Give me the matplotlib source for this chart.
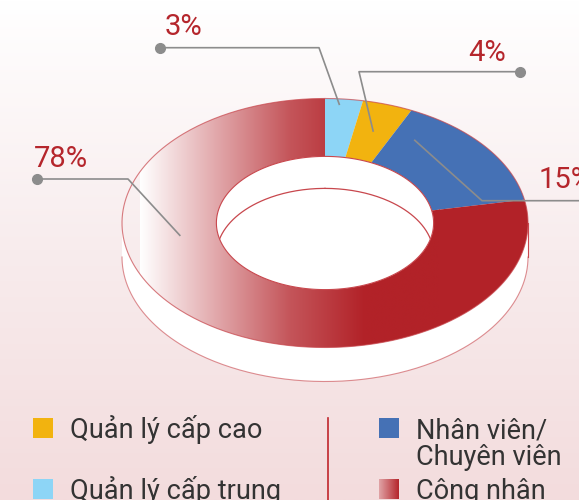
import numpy as np
import matplotlib
matplotlib.use("Agg")
import matplotlib.pyplot as plt
from matplotlib.patches import Polygon, Rectangle
from matplotlib.colors import LinearSegmentedColormap

# co cau lao dong theo cap bac
categories = ["Quản lý cấp trung", "Quản lý cấp cao", "Nhân viên/\nChuyên viên", "Công nhân"]
shares = [3, 4, 15, 78]
pct_labels = ["3%", "4%", "15%", "78%"]
colors = ["#8dd5f6", "#f2b30f", "#4571b5", "#b22228"]

legend_order = [1, 0, 2, 3]   # cot trai: cao, trung ; cot phai: nhan vien, cong nhan

plt.rcParams['font.family'] = ['Roboto', 'DejaVu Sans']

W, H = 579, 500
fig = plt.figure(figsize=(W / 100, H / 100), dpi=100)
ax = fig.add_axes([0, 0, 1, 1])
ax.set_xlim(0, W)
ax.set_ylim(H, 0)
ax.axis('off')

# nen gradient doc
bg = np.linspace(0, 1, 256).reshape(-1, 1)
bg_cmap = LinearSegmentedColormap.from_list("bg", ["#ffffff", "#f8eced", "#f3dcdd"])
ax.imshow(bg, cmap=bg_cmap, extent=[0, W, H, 0], aspect='auto', zorder=0)

# hinh elip cua banh donut
cx, cy = 325, 223
a, b = 203, 124.5
rin = 0.535
depth = 34
red_grad = LinearSegmentedColormap.from_list("rg", ["#ffffff", "#e2a9ac", "#c4555a", "#b22228", "#b22228"])


def ell(theta_deg, r=1.0, dy=0.0):
    t = np.radians(theta_deg)
    return cx + r * a * np.sin(t), cy - r * b * np.cos(t) + dy


# thanh ben (3D)
th = np.linspace(90, 270, 200)
xt, yt = ell(th)
xb, yb = ell(th[::-1], dy=depth)
side = Polygon(np.column_stack([np.r_[xt, xb], np.r_[yt, yb]]), closed=True,
               facecolor="white", edgecolor="none", zorder=2)
ax.add_patch(side)
xe, ye = ell(th, dy=depth)
ax.plot(xe, ye, color="#c8474d", lw=0.8, alpha=0.6, zorder=3)
ax.plot([cx + a, cx + a], [cy, cy + depth], color="#c8474d", lw=0.8, zorder=3)

# cac manh tren mat
start = 0.0
spans = []
for s, col in zip(shares, colors):
    t1 = start + s / 100 * 360
    tt = np.linspace(start, t1, max(int(t1 - start) * 2, 4))
    xo, yo = ell(tt)
    xi, yi = ell(tt[::-1], r=rin)
    poly = Polygon(np.column_stack([np.r_[xo, xi], np.r_[yo, yi]]), closed=True,
                   facecolor=col, edgecolor="none", zorder=4)
    ax.add_patch(poly)
    if col == colors[3]:
        poly.set_facecolor("none")
        g = np.linspace(0, 1, 512).reshape(1, -1)
        im = ax.imshow(g, cmap=red_grad, extent=[140, 440, cy + b + 2, cy - b - 2],
                       aspect='auto', interpolation='bilinear', zorder=4)
        im.set_clip_path(poly)
        ax.add_patch(Rectangle((439, cy - b - 2), cx + a - 437, 2 * b + 4,
                               facecolor=col, edgecolor="none", zorder=4,
                               clip_path=poly))
    spans.append((start, t1))
    start = t1

# vien mat tren
tt = np.linspace(0, 360, 400)
xo, yo = ell(tt)
ax.plot(xo, yo, color="#c8474d", lw=0.8, alpha=0.7, zorder=5)

# lo giua
xi, yi = ell(tt, r=rin)
hole = Polygon(np.column_stack([xi, yi]), closed=True, facecolor="white",
               edgecolor="#c8474d", lw=0.8, zorder=5)
ax.add_patch(hole)
xw, yw = ell(tt, r=rin, dy=depth - 2)
wall, = ax.plot(xw, yw, color="#c8474d", lw=0.9, zorder=6)
wall.set_clip_path(hole)

# duong dan nhan
anchor_frac = [0.4, 0.5, 0.15, 0.65]
anchor_r = [0.95, 0.77, 0.8, 0.72]
elbows = [(319, 47.7), (359, 71.7), (482, 200.7), (128, 179)]
ends = [(160, 47.7), (519.6, 71.7), (579, 200.7), (37, 179)]
text_pos = [(165, 35), (468, 61), (539, 188), (34, 167)]
lc = "#8c8c8c"
for i in range(4):
    s0, s1 = spans[i]
    ang = s0 + anchor_frac[i] * (s1 - s0)
    px, py = ell(ang, r=anchor_r[i])
    ax.plot([px, elbows[i][0], ends[i][0]], [py, elbows[i][1], ends[i][1]],
            color=lc, lw=1.2, zorder=7, solid_capstyle='butt')
    if i != 2:
        ax.plot(ends[i][0], ends[i][1], 'o', color=lc, ms=7, zorder=7)
    ax.text(text_pos[i][0], text_pos[i][1], pct_labels[i], color="#b5262c",
            fontsize=21, fontweight='normal', ha='left', va='baseline', zorder=8)

# chu giai
sq = 20
box_pos = [(33, 418), (33, 479), (379, 418), (379, 479)]
for k, idx in enumerate(legend_order):
    bx, by = box_pos[k]
    if idx == 3:
        g = np.linspace(0, 1, 64).reshape(1, -1)
        sq_cmap = LinearSegmentedColormap.from_list("sq", ["#e0a3a6", "#b5262c"])
        ax.imshow(g, cmap=sq_cmap, extent=[bx, bx + sq, by + sq, by], aspect='auto',
                  interpolation='bilinear', zorder=8)
    else:
        ax.add_patch(Rectangle((bx, by), sq, sq, facecolor=colors[idx], edgecolor="none", zorder=8))
    lines = categories[idx].split("\n")
    for j, ln in enumerate(lines):
        ax.text(bx + 37, by + 20 + j * 27, ln, color="#333333", fontsize=19.5,
                ha='left', va='baseline', zorder=8)

ax.plot([328, 328], [418, 500], color="#c0262c", lw=1.2, zorder=8)

fig.savefig("out.png", dpi=100)
